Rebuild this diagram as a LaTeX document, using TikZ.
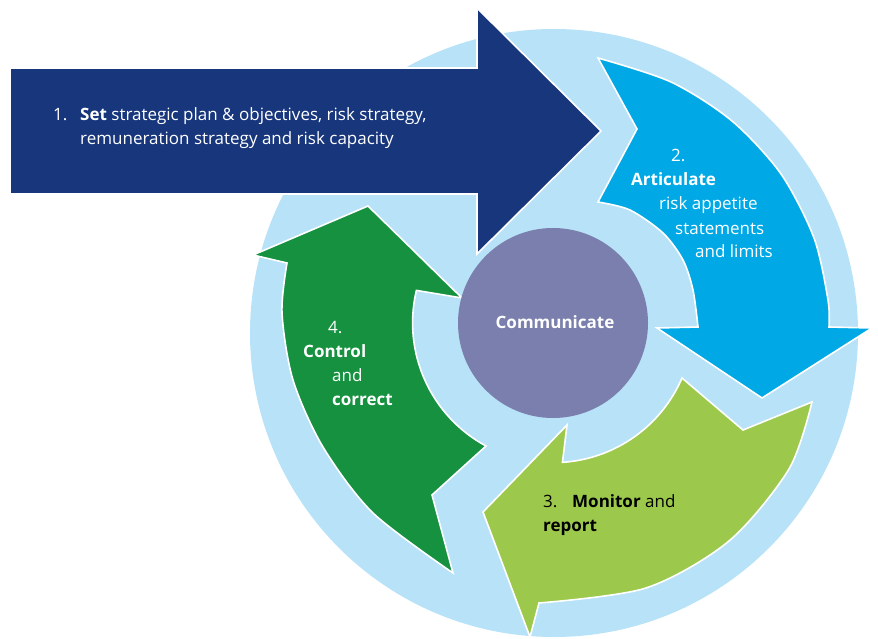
\documentclass[tikz,border=0pt]{standalone}
\usepackage{fontspec}
\setmainfont{Open Sans}
\definecolor{ringblue}{HTML}{B8E2F7}
\definecolor{navy}{HTML}{17367C}
\definecolor{cyanarrow}{HTML}{00A9E5}
\definecolor{lime}{HTML}{9CC94B}
\definecolor{darkgreen}{HTML}{15913F}
\definecolor{purplecirc}{HTML}{7A7FAD}
\tikzset{
  arrowshape/.style={draw=white, line width=1.6pt, line join=miter},
  lbl/.style={anchor=base west, inner sep=0pt, font=\fontsize{17}{20}\selectfont},
}
\begin{document}
\begin{tikzpicture}[x=1pt, y=-1pt]
\useasboundingbox (0,0) rectangle (878,639);
% outer ring
\fill[ringblue] (554,333) circle[radius=304];
% arrow 2
\path[arrowshape, fill=cyanarrow] (598,58) -- (637,129) -- (598,202)
  -- plot[smooth] coordinates {(598,202) (630,210) (663,233) (683,260) (693,290) (698,327)}
  -- (657,328) -- (762,398) -- (872,328) -- (829,327)
  -- plot[smooth] coordinates {(829,327) (828,300) (814,238) (781,174) (732,121) (671,82) (598,58)}
  -- cycle;
% arrow 3
\path[arrowshape, fill=lime] (812,402) -- (743,430) -- (682,378)
  arc[start angle=23.3, end angle=86.3, radius=140]
  -- (567,425) -- (483,512) -- (530,637) -- (539,603)
  -- plot[smooth] coordinates {(539,603) (646,588) (729,541) (789,469) (812,402)}
  -- cycle;
% arrow 4
\path[arrowshape, fill=darkgreen] (453,573) -- (432,495) -- (486,446)
  arc[start angle=118.4, end angle=193.4, radius=140]
  -- (462,298) -- (368,206) -- (253,255) -- (287,263)
  -- plot[smooth] coordinates {(287,263) (282,313) (293,380) (323,447) (373,513) (453,573)}
  -- cycle;
% arrow 1
\path[arrowshape, fill=navy] (10,68) -- (477,68) -- (477,8) -- (601,131)
  -- (477,254) -- (477,194) -- (10,194) -- cycle;
% centre
\node[circle, fill=purplecirc, minimum size=190pt, inner sep=0pt] (comm) at (553,323) {};
\node[text=white, font=\fontsize{17}{20}\selectfont\bfseries, anchor=base] (commtext) at (555,328) {Communicate};
% texts arrow 1
\node[lbl, text=white] (t1a) at (53,121) {1.};
\node[lbl, text=white] (t1b) at (80,121) {\textbf{Set} strategic plan \& objectives, risk strategy,};
\node[lbl, text=white] (t1c) at (80,145) {remuneration strategy and risk capacity};
% texts arrow 2
\node[lbl, text=white] (t2a) at (671,162) {2.};
\node[lbl, text=white] (t2b) at (631,186) {\textbf{Articulate}};
\node[lbl, text=white] (t2c) at (659,210) {risk appetite};
\node[lbl, text=white] (t2d) at (675,234) {statements};
\node[lbl, text=white] (t2e) at (695,258) {and limits};
% texts arrow 3
\node[lbl, text=black] (t3a) at (543,507) {3.};
\node[lbl, text=black] (t3b) at (572,507) {\textbf{Monitor} and};
\node[lbl, text=black] (t3c) at (543,531) {\textbf{report}};
% texts arrow 4
\node[lbl, text=white] (t4a) at (328,333) {4.};
\node[lbl, text=white] (t4b) at (303,357) {\textbf{Control}};
\node[lbl, text=white] (t4c) at (332,381) {and};
\node[lbl, text=white] (t4d) at (332,405) {\textbf{correct}};
\end{tikzpicture}
\end{document}
